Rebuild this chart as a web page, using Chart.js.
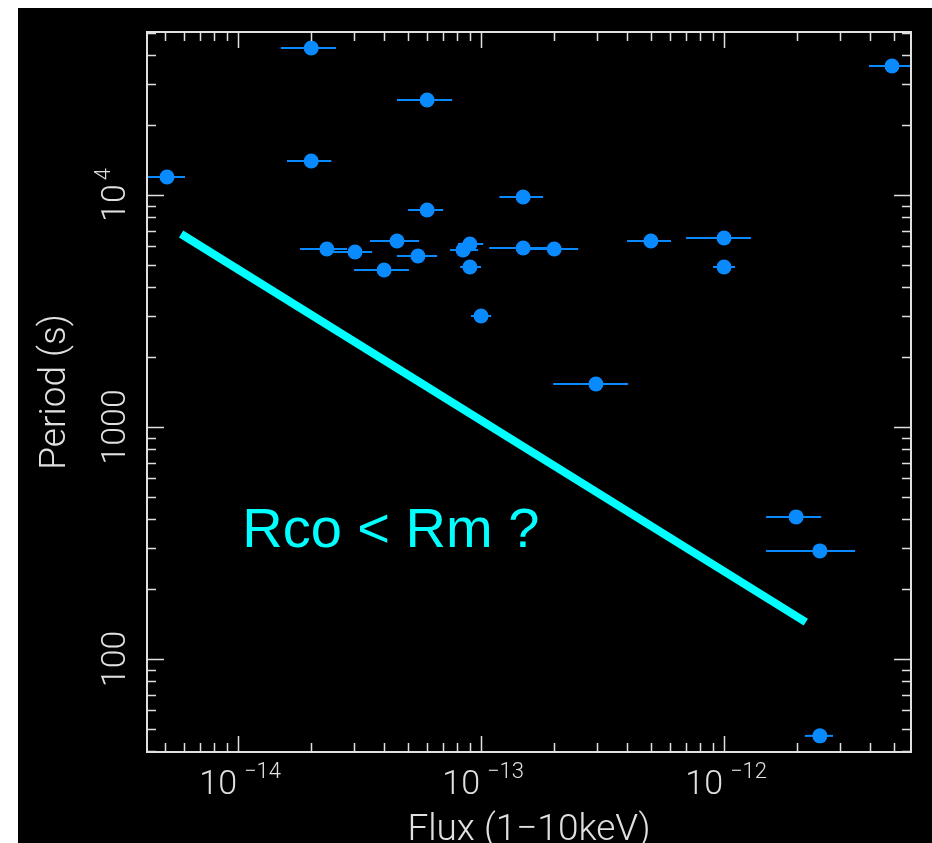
<!DOCTYPE html>
<html>
<head>
<meta charset="utf-8">
<title>Period vs Flux</title>
<script src="https://cdn.jsdelivr.net/npm/chart.js"></script>
<style>
  html, body { margin: 0; background: #fff; }
  #panel { position: absolute; left: 18px; top: 8px; width: 914px; height: 835px; background: #000; }
</style>
</head>
<body>
<div id="panel"><canvas id="periodFlux" width="914" height="835"></canvas></div>
<script>
// sources: 1-10 keV flux with its range, and spin period (s)
var flux   = [5.1e-15, 2.0e-14, 2.0e-14, 6.0e-14, 6.0e-14, 2.32e-14, 3.03e-14, 4.51e-14, 3.99e-14, 5.5e-14,
              8.43e-14, 9.0e-14, 9.0e-14, 1.0e-13, 1.49e-13, 1.49e-13, 2.0e-13, 2.97e-13, 5.0e-13, 1.0e-12,
              1.0e-12, 4.91e-12, 1.98e-12, 2.48e-12, 2.48e-12];
var fluxLo = [4.0e-15, 1.5e-14, 1.59e-14, 4.51e-14, 5.01e-14, 1.8e-14, 2.46e-14, 3.49e-14, 3.0e-14, 4.51e-14,
              7.45e-14, 8.04e-14, 8.2e-14, 9.1e-14, 1.19e-13, 1.08e-13, 1.59e-13, 1.98e-13, 3.99e-13, 6.98e-13,
              9.01e-13, 3.95e-12, 1.49e-12, 1.49e-12, 2.15e-12];
var fluxHi = [6.05e-15, 2.53e-14, 2.42e-14, 7.6e-14, 6.98e-14, 2.81e-14, 3.56e-14, 5.56e-14, 5.05e-14, 6.59e-14,
              9.72e-14, 1.02e-13, 1.0e-13, 1.1e-13, 1.8e-13, 1.89e-13, 2.51e-13, 4.03e-13, 6.05e-13, 1.29e-12,
              1.11e-12, 6.5e-12, 2.51e-12, 3.46e-12, 2.81e-12];
var period = [11960, 43010, 14020, 25670, 8616, 5852, 5679, 6335, 4750, 5459,
              5793, 6149, 4894, 3009, 9804, 5910, 5852, 1532, 6335, 6527,
              4894, 35970, 409.5, 292.2, 46.6];

// corotation / magnetospheric radius boundary and its label
var lineFlux   = [5.83e-15, 2.17e-12];
var linePeriod = [6790, 144];
var noteText = "Rco < Rm ?";
var noteFlux = 1.04e-14;
var notePeriod = 304;

// axis labels
var xTicks = [1e-14, 1e-13, 1e-12];
var xTickExp = ["\u221214", "\u221213", "\u221212"];
var yTicks = [100, 1000, 1e4];
var yTickBase = ["100", "1000", "10"];
var yTickExp = ["", "", "4"];
var xTitle = "Flux (1\u221210keV)";
var yTitle = "Period (s)";

var FG = '#e0e0e0';
var AXIS_FONT = 'Roboto, "Liberation Sans", Arial, sans-serif';
var NOTE_FONT = '"Liberation Sans", Arial, sans-serif';
var BLUE = '#0a8aff';

function minorTicks(min, max) {
  var out = [];
  for (var d = Math.floor(Math.log10(min)); d <= Math.ceil(Math.log10(max)); d++) {
    for (var k = 1; k <= 9; k++) {
      var v = k * Math.pow(10, d);
      if (v > min && v < max) out.push({ v: v, major: k === 1 });
    }
  }
  return out;
}

var points = flux.map(function (f, i) { return { x: f, y: period[i] }; });
var boundary = lineFlux.map(function (f, i) { return { x: f, y: linePeriod[i] }; });

var pgplotFrame = {
  id: 'pgplotFrame',
  beforeDatasetsDraw: function (chart) {
    var ctx = chart.ctx, xs = chart.scales.x, ys = chart.scales.y, a = chart.chartArea;
    ctx.save();
    ctx.beginPath();
    ctx.rect(a.left, a.top, a.right - a.left, a.bottom - a.top);
    ctx.clip();
    ctx.strokeStyle = BLUE;
    ctx.lineWidth = 2;
    for (var i = 0; i < flux.length; i++) {
      var py = ys.getPixelForValue(period[i]);
      ctx.beginPath();
      ctx.moveTo(xs.getPixelForValue(fluxLo[i]), py);
      ctx.lineTo(xs.getPixelForValue(fluxHi[i]), py);
      ctx.stroke();
    }
    ctx.restore();
  },
  afterDatasetsDraw: function (chart) {
    var ctx = chart.ctx, xs = chart.scales.x, ys = chart.scales.y, a = chart.chartArea;
    ctx.save();
    // box
    ctx.strokeStyle = FG;
    ctx.lineWidth = 2;
    ctx.strokeRect(a.left, a.top, a.right - a.left, a.bottom - a.top);

    // inward ticks on all four sides
    ctx.lineWidth = 1.5;
    ctx.beginPath();
    minorTicks(xs.min, xs.max).forEach(function (t) {
      var px = Math.round(xs.getPixelForValue(t.v)) + 0.5;
      var len = t.major ? 16 : 9;
      ctx.moveTo(px, a.bottom); ctx.lineTo(px, a.bottom - len);
      ctx.moveTo(px, a.top); ctx.lineTo(px, a.top + len);
    });
    minorTicks(ys.min, ys.max).forEach(function (t) {
      var py = Math.round(ys.getPixelForValue(t.v)) + 0.5;
      var len = t.major ? 17 : 9;
      ctx.moveTo(a.left, py); ctx.lineTo(a.left + len, py);
      ctx.moveTo(a.right, py); ctx.lineTo(a.right - len, py);
    });
    ctx.stroke();

    ctx.fillStyle = FG;
    ctx.textBaseline = 'alphabetic';

    // x tick labels: 10 with exponent
    xTicks.forEach(function (v, i) {
      var px = xs.getPixelForValue(v);
      ctx.font = '300 34px ' + AXIS_FONT;
      ctx.textAlign = 'right';
      ctx.fillText('10', px - 1, a.bottom + 42);
      ctx.font = '300 22px ' + AXIS_FONT;
      ctx.textAlign = 'left';
      ctx.fillText(xTickExp[i], px + 6, a.bottom + 26);
    });

    // y tick labels, rotated
    yTicks.forEach(function (v, i) {
      var py = ys.getPixelForValue(v);
      ctx.save();
      ctx.translate(a.left - 22, py);
      ctx.rotate(-Math.PI / 2);
      ctx.font = '300 34px ' + AXIS_FONT;
      var wb = ctx.measureText(yTickBase[i]).width;
      ctx.font = '300 22px ' + AXIS_FONT;
      var we = yTickExp[i] ? ctx.measureText(yTickExp[i]).width + 4 : 0;
      var x0 = -(wb + we) / 2;
      ctx.textAlign = 'left';
      ctx.font = '300 34px ' + AXIS_FONT;
      ctx.fillText(yTickBase[i], x0, 0);
      if (we) {
        ctx.font = '300 22px ' + AXIS_FONT;
        ctx.fillText(yTickExp[i], x0 + wb + 4, -15);
      }
      ctx.restore();
    });

    // axis titles
    ctx.font = '300 37px ' + AXIS_FONT;
    ctx.textAlign = 'center';
    ctx.fillText(xTitle, (a.left + a.right) / 2, a.bottom + 88);
    ctx.save();
    ctx.translate(a.left - 82, (a.top + a.bottom) / 2);
    ctx.rotate(-Math.PI / 2);
    ctx.fillText(yTitle, 0, 0);
    ctx.restore();

    // boundary label
    ctx.fillStyle = '#00ffff';
    ctx.font = '56px ' + NOTE_FONT;
    ctx.textAlign = 'left';
    ctx.fillText(noteText, xs.getPixelForValue(noteFlux), ys.getPixelForValue(notePeriod));
    ctx.restore();
  }
};

new Chart(document.getElementById('periodFlux').getContext('2d'), {
  type: 'scatter',
  data: {
    datasets: [
      {
        label: 'sources',
        data: points,
        pointRadius: 7.5,
        pointBackgroundColor: BLUE,
        pointBorderWidth: 0
      },
      {
        label: 'Rco = Rm',
        data: boundary,
        showLine: true,
        borderColor: '#00ffff',
        borderWidth: 8,
        borderCapStyle: 'butt',
        pointRadius: 0
      }
    ]
  },
  options: {
    responsive: false,
    animation: false,
    layout: { padding: { left: 129, top: 24, right: 21, bottom: 91 } },
    plugins: { legend: { display: false }, tooltip: { enabled: false } },
    scales: {
      x: { type: 'logarithmic', min: 4.22e-15, max: 5.88e-12, display: false },
      y: { type: 'logarithmic', min: 39.7, max: 50420, display: false }
    }
  },
  plugins: [pgplotFrame]
});
</script>
</body>
</html>
